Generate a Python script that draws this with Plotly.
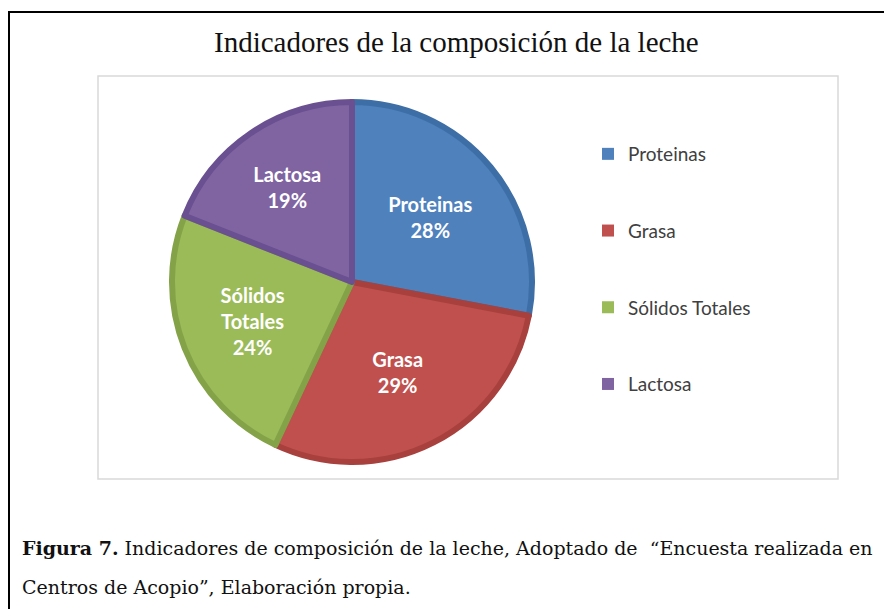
import plotly.graph_objects as go

# Data
categories = ["Proteinas", "Grasa", "Sólidos Totales", "Lactosa"]
slice_text = ["Proteinas", "Grasa", "Sólidos<br>Totales", "Lactosa"]
values = [28, 29, 24, 19]

colors = ["#4F81BD", "#C0504D", "#9BBB59", "#8064A2"]
edge_colors = ["#3E6EA6", "#A8403E", "#84A348", "#6A5090"]

# page is rendered with an 8px body margin
OFF = 8
W, H = 892 - OFF, 609 - OFF

def px(x):
    return (x - OFF) / W

def py(y):
    return 1 - (y - OFF) / H

fig = go.Figure()

cx, cy, r = 352, 282, 180
fig.add_trace(go.Pie(
    labels=categories,
    values=values,
    text=slice_text,
    sort=False,
    direction="clockwise",
    rotation=0,
    marker=dict(colors=colors, line=dict(color=edge_colors, width=6)),
    texttemplate="%{text}<br>%{percent:.0%}",
    textposition="inside",
    insidetextorientation="horizontal",
    textfont=dict(family="Lato, Open Sans, sans-serif", size=20, color="white", weight="bold"),
    domain=dict(x=[px(cx - r), px(cx + r)], y=[py(cy + r), py(cy - r)]),
    showlegend=False,
    hoverinfo="label+percent",
))

# Legend entries (one group each, for spacing)
for i, (name, col) in enumerate(zip(categories, colors)):
    fig.add_trace(go.Scatter(
        x=[None], y=[None], mode="markers", name=name,
        marker=dict(symbol="square", size=12, color=col),
        legendgroup=f"g{i}", showlegend=True,
    ))

fig.update_layout(
    width=W, height=H,
    margin=dict(l=0, r=0, t=0, b=0),
    paper_bgcolor="white",
    plot_bgcolor="white",
    xaxis=dict(visible=False),
    yaxis=dict(visible=False),
    legend=dict(
        x=px(588), y=py(135), xanchor="left", yanchor="top",
        font=dict(family="Lato, Open Sans, sans-serif", size=19, color="#404040"),
        tracegroupgap=49,
        bgcolor="rgba(0,0,0,0)",
    ),
    shapes=[
        dict(type="rect", xref="paper", yref="paper",
             x0=px(9), x1=px(905), y0=py(12), y1=py(625),
             line=dict(color="black", width=2)),
        dict(type="rect", xref="paper", yref="paper",
             x0=px(98), x1=px(838), y0=py(76), y1=py(479),
             line=dict(color="#D9D9D9", width=1.5)),
    ],
    annotations=[
        dict(text="Indicadores de la composición de la leche",
             x=px(456), y=py(42), xref="paper", yref="paper",
             xanchor="center", yanchor="middle", showarrow=False,
             font=dict(family="Liberation Serif, Times New Roman, serif", size=29, color="#111111")),
        dict(text="<b>Figura 7.</b> Indicadores de composición de la leche, Adoptado de  “Encuesta realizada en",
             x=px(20), y=py(548), xref="paper", yref="paper",
             xanchor="left", yanchor="middle", showarrow=False,
             font=dict(family="DejaVu Serif, serif", size=19, color="#111111")),
        dict(text="Centros de Acopio”, Elaboración propia.",
             x=px(20), y=py(587), xref="paper", yref="paper",
             xanchor="left", yanchor="middle", showarrow=False,
             font=dict(family="DejaVu Serif, serif", size=19, color="#111111")),
    ],
)

fig.write_html("out.html")
